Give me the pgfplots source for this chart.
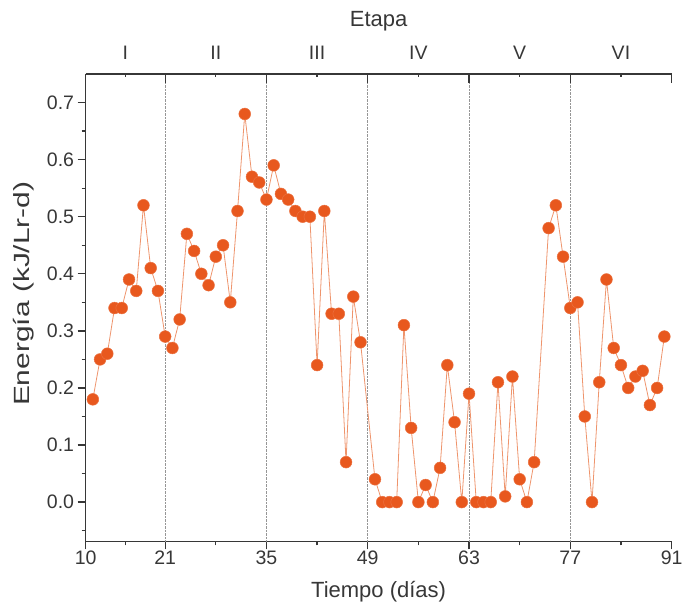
\documentclass[border=0pt]{standalone}
\usepackage{fontspec}
\setmainfont{Liberation Sans}
\usepackage{graphicx}
\usepackage{pgfplots}
\pgfplotsset{compat=1.18}

\definecolor{ptfill}{RGB}{232,88,30}
\definecolor{ptline}{RGB}{238,148,108}
\definecolor{axgray}{RGB}{55,55,55}
\definecolor{txtgray}{RGB}{55,55,55}
\definecolor{gridgray}{RGB}{150,150,150}

% Energía diaria (kJ/Lr-d) frente al tiempo (días)
\pgfplotstableread{
dia energia
11 0.18
12 0.25
13 0.26
14 0.34
15 0.34
16 0.39
17 0.37
18 0.52
19 0.41
20 0.37
21 0.29
22 0.27
23 0.32
24 0.47
25 0.44
26 0.40
27 0.38
28 0.43
29 0.45
30 0.35
31 0.51
32 0.68
33 0.57
34 0.56
35 0.53
36 0.59
37 0.54
38 0.53
39 0.51
40 0.50
41 0.50
42 0.24
43 0.51
44 0.33
45 0.33
46 0.07
47 0.36
48 0.28
50 0.04
51 0.00
52 0.00
53 0.00
54 0.31
55 0.13
56 0.00
57 0.03
58 0.00
59 0.06
60 0.24
61 0.14
62 0.00
63 0.19
64 0.00
65 0.00
66 0.00
67 0.21
68 0.01
69 0.22
70 0.04
71 0.00
72 0.07
74 0.48
75 0.52
76 0.43
77 0.34
78 0.35
79 0.15
80 0.00
81 0.21
82 0.39
83 0.27
84 0.24
85 0.20
86 0.22
87 0.23
88 0.17
89 0.20
90 0.29
}\energia

\begin{document}
\begin{tikzpicture}
\pgfplotsset{
  base/.style={
    scale only axis, width=586pt, height=467.5pt,
    xmin=10, xmax=91, ymin=-0.069, ymax=0.75,
    axis line style={axgray, line width=1.6pt},
    every tick/.style={axgray, line width=1.3pt},
    tick label style={font=\fontsize{19.5}{22}\selectfont, text=txtgray},
    label style={font=\fontsize{22}{26}\selectfont, text=txtgray},
    /pgf/number format/assume math mode=true,
  },
}
% Eje principal: tiempo y energía
\begin{axis}[base,
  axis x line*=bottom, axis y line*=left,
  tick align=outside,
  major tick length=8pt, minor tick length=4pt,
  xtick={10,21,35,49,63,77,91},
  minor xtick={15.5,28,42,56,70,84},
  ytick={0,0.1,0.2,0.3,0.4,0.5,0.6,0.7},
  minor ytick={-0.05,0.05,0.15,0.25,0.35,0.45,0.55,0.65},
  yticklabel style={/pgf/number format/.cd, fixed, fixed zerofill, precision=1},
  xticklabel style={yshift=2pt},
  extra x ticks={21,35,49,63,77},
  extra x tick labels={},
  extra x tick style={grid=major, major tick length=0pt,
    major grid style={gridgray, densely dotted, line width=0.8pt}},
  xlabel={Tiempo (días)},
  xlabel style={at={(axis description cs:0.5,-0.1198)}, anchor=base},
  ylabel={\scalebox{1.36}[1]{Energía (kJ/Lr-d)}},
  ylabel style={at={(axis description cs:-0.1064,0.53)}, anchor=center},
  clip=false,
]
\addplot[ptline, line width=0.8pt,
  mark=*, mark size=5.9pt,
  mark options={fill=ptfill, draw=ptfill!85!white, line width=0.5pt}]
  table[x=dia, y=energia] {\energia};
\end{axis}
% Eje superior: etapas
\begin{axis}[base,
  axis x line*=top, axis y line=none,
  tick align=inside,
  major tick length=9pt,
  xtick={10,21,35,49,63,77,91},
  xticklabels={},
  extra x ticks={15.5,28,42,56,70,84},
  extra x tick labels={I,II,III,IV,V,VI},
  extra x tick style={major tick length=3.5pt,
    xticklabel style={anchor=base, yshift=14pt}},
  xlabel={Etapa},
  xlabel style={at={(axis description cs:0.5,1.1006)}, anchor=base},
]
\end{axis}
\pgfresetboundingbox
\path (-85.6pt,-60.5pt) rectangle (597.4pt,541.5pt);
\end{tikzpicture}
\end{document}
